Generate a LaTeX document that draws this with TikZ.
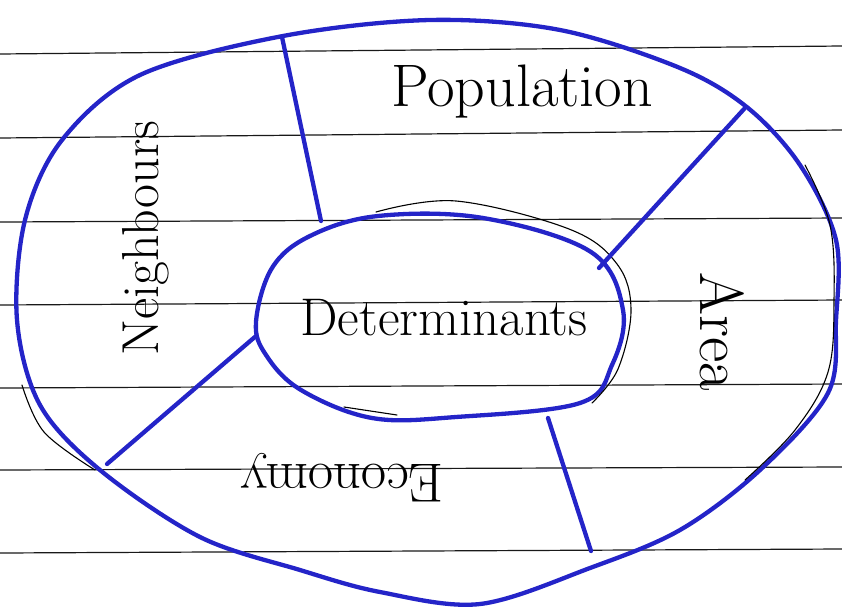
\documentclass[tikz,border=0pt]{standalone}
\usepackage{fontspec}
\definecolor{inkblue}{RGB}{36,36,200}
\begin{document}
\begin{tikzpicture}[x=1pt,y=-1pt,
  ink/.style={draw=inkblue, line width=4.3pt, line cap=round, line join=round},
  pen/.style={draw=black, line width=1.1pt, line cap=round},
  rule/.style={draw=black!90, line width=1.2pt},
  lbl/.style={inner sep=0pt, text=black}]
\useasboundingbox (0,0) rectangle (842,608);
% ruled paper
\foreach \a/\b in {54/46,138/130,222/218,305/300,388/384,470/467,553/549}
  \draw[rule] (0,\a) -- (842,\b);
% outer ring
\draw[ink] plot[smooth cycle, tension=0.55] coordinates {
  (430,20) (560,30) (680,68) (748,108) (800,165) (836,240) (836,320) (828,393)
  (760,470) (680,530) (590,568) (480,604) (380,592) (300,570) (200,537)
  (100,470) (40,405) (17,320) (25,220) (62,140) (140,75) (283,36)};
\draw[pen] plot[smooth, tension=0.6] coordinates {(805,165) (830,225) (834,300) (828,372) (795,430) (745,480)};
\draw[pen] plot[smooth, tension=0.6] coordinates {(22,385) (44,432) (95,470)};
% inner ring
\draw[ink] plot[smooth cycle, tension=0.6] coordinates {
  (256,322) (272,268) (310,236) (378,216) (483,218) (591,252) (623,310) (612,365)
  (580,403) (456,417) (372,418) (301,390) (266,355)};
\draw[pen] plot[smooth, tension=0.6] coordinates {(376,212) (456,201) (569,229) (617,264) (631,310) (618,369) (592,403)};
\draw[pen] (344,407) -- (397,415);
% dividers
\coordinate (d1a) at (282,37);  \coordinate (d1b) at (321,221);
\coordinate (d2a) at (744,109); \coordinate (d2b) at (599,268);
\coordinate (d3a) at (256,336); \coordinate (d3b) at (107,464);
\coordinate (d4a) at (548,418); \coordinate (d4b) at (591,551);
\draw[ink] (d1a) -- (d1b);
\draw[ink] (d2a) -- (d2b);
\draw[ink] (d3a) -- (d3b);
\draw[ink] (d4a) -- (d4b);
% labels
\node[lbl, font=\fontsize{53}{56}\selectfont] (det) at (444,318) {Determinants};
\node[lbl, font=\fontsize{60}{64}\selectfont] (pop) at (522,92) {Population};
\node[lbl, font=\fontsize{52}{56}\selectfont, rotate=90] (nei) at (146,238) {Neighbours};
\node[lbl, font=\fontsize{62}{66}\selectfont, rotate=-90] (area) at (722,332) {Area};
\node[lbl, font=\fontsize{55}{58}\selectfont, rotate=180] (eco) at (342,478) {Economy};
\end{tikzpicture}
\end{document}
